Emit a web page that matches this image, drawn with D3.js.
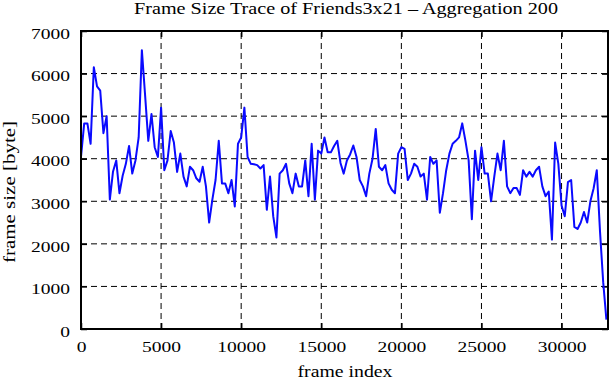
<!DOCTYPE html>
<html>
<head>
<meta charset="utf-8">
<script src="https://cdn.jsdelivr.net/npm/d3@7"></script>
<style>
  body { margin: 0; background: #fff; }
</style>
</head>
<body>
<div id="chart"></div>
<script>
// frame size trace, one value per 200 frames (aggregation 200)
const aggregation = 200;
const frameSizes = [
  4040, 4830, 4830, 4350, 6150, 5700, 5600, 4600, 5000, 3040,
  3700, 3960, 3190, 3600, 3880, 4300, 3650, 3960, 4500, 6550,
  5500, 4420, 5050, 4270, 4040, 5200, 3730, 3960, 4650, 4380,
  3690, 4120, 3580, 3350, 3810, 3730, 3540, 3460, 3810, 3350,
  2500, 3040, 3500, 4420, 3420, 3420, 3190, 3500, 2880, 4350,
  4500, 5200, 4040, 3880, 3870, 3850, 3770, 3850, 2800, 3580,
  2650, 2150, 3650, 3730, 3880, 3420, 3190, 3650, 3350, 3350,
  3960, 3120, 4350, 3040, 4190, 4120, 4500, 4150, 4150, 4300,
  4420, 3900, 3650, 3960, 4100, 4310, 4040, 3500, 3350, 3120,
  3650, 4000, 4700, 3810, 3730, 3850, 3420, 3270, 3190, 4120,
  4270, 4230, 3500, 3650, 3880, 3810, 3580, 3650, 3040, 4040,
  3880, 3960, 2730, 3190, 3730, 4120, 4350, 4420, 4500, 4830,
  4420, 3960, 2580, 4190, 3500, 4270, 3650, 3650, 3000, 3580,
  4120, 3730, 4420, 3350, 3190, 3310, 3310, 3150, 3730, 3580,
  3690, 3580, 3730, 3810, 3350, 3120, 3230, 2100, 4380, 3880,
  2900, 2650, 3450, 3500, 2400, 2350, 2500, 2750, 2500, 3000,
  3300, 3730, 2300, 1100, 220
];
const xTicks = [0, 5000, 10000, 15000, 20000, 25000, 30000];
const yTicks = [0, 1000, 2000, 3000, 4000, 5000, 6000, 7000];
const xMax = 32900;
const yMax = 7000;

const w = 611, h = 380;
const margin = { left: 81, right: 3, top: 31, bottom: 51 };
const serif = "'Liberation Serif', 'Times New Roman', serif";
const digitW = 9.75; // the reference font is wide, stretch text to match

const svg = d3.select("#chart").append("svg")
  .attr("width", w).attr("height", h)
  .style("font-family", serif);

const xScale = d3.scaleLinear().domain([0, xMax]).range([margin.left, w - margin.right]);
const yScale = d3.scaleLinear().domain([0, yMax]).range([h - margin.bottom, margin.top]);

const x0 = margin.left, x1 = w - margin.right;
const y0 = h - margin.bottom, y1 = margin.top;

// dashed grid
svg.append("g").selectAll("line")
  .data(xTicks.filter(d => d > 0))
  .enter().append("line")
  .attr("x1", d => xScale(d)).attr("x2", d => xScale(d))
  .attr("y1", y0).attr("y2", y1)
  .attr("stroke", "#000").attr("stroke-width", 1)
  .attr("stroke-dasharray", "6,4");

svg.append("g").selectAll("line")
  .data(yTicks.filter(d => d > 0 && d < yMax))
  .enter().append("line")
  .attr("x1", x0).attr("x2", x1)
  .attr("y1", d => yScale(d)).attr("y2", d => yScale(d))
  .attr("stroke", "#000").attr("stroke-width", 1)
  .attr("stroke-dasharray", "6,4");

// axes with inward ticks
const tickLen = 6;
function styleLabels(g) {
  g.select(".domain").remove();
  g.attr("font-family", null).style("font-family", serif);
  g.selectAll("text")
    .attr("fill", "#000")
    .style("font-family", serif)
    .style("font-size", "15px")
    .attr("textLength", function() { return this.textContent.length * digitW; })
    .attr("lengthAdjust", "spacingAndGlyphs");
}
svg.append("g").attr("transform", "translate(0," + y0 + ")")
  .call(d3.axisBottom(xScale).tickValues(xTicks).tickSize(-tickLen).tickPadding(12).tickFormat(d3.format("d")))
  .call(styleLabels);
svg.append("g").attr("transform", "translate(0," + y1 + ")")
  .call(d3.axisTop(xScale).tickValues(xTicks).tickSize(-tickLen).tickFormat(""))
  .call(g => g.select(".domain").remove());
svg.append("g").attr("transform", "translate(" + x0 + ",0)")
  .call(d3.axisLeft(yScale).tickValues(yTicks).tickSize(-tickLen).tickPadding(11).tickFormat(d3.format("d")))
  .call(styleLabels)
  .call(g => g.selectAll("text").attr("dy", "0.48em"));
svg.append("g").attr("transform", "translate(" + x1 + ",0)")
  .call(d3.axisRight(yScale).tickValues(yTicks).tickSize(-tickLen).tickFormat(""))
  .call(g => g.select(".domain").remove());
svg.selectAll(".tick line").attr("stroke", "#000").attr("stroke-width", 1.5);

// the trace
const line = d3.line()
  .x((d, i) => xScale(i * aggregation))
  .y(d => yScale(d));
svg.append("path")
  .datum(frameSizes)
  .attr("fill", "none")
  .attr("stroke", "#0a0aff")
  .attr("stroke-width", 2)
  .attr("stroke-linejoin", "round")
  .attr("d", line);

// frame
svg.append("rect")
  .attr("x", x0).attr("y", y1)
  .attr("width", x1 - x0).attr("height", y0 - y1)
  .attr("fill", "none").attr("stroke", "#000").attr("stroke-width", 2);

// labels
svg.append("text")
  .attr("x", 346).attr("y", 14)
  .attr("text-anchor", "middle").style("font-size", "16px")
  .attr("textLength", 424).attr("lengthAdjust", "spacingAndGlyphs")
  .text("Frame Size Trace of Friends3x21 \u2013 Aggregation 200");
svg.append("text")
  .attr("x", 345).attr("y", 377)
  .attr("text-anchor", "middle").style("font-size", "16px")
  .attr("textLength", 95).attr("lengthAdjust", "spacingAndGlyphs")
  .text("frame index");
svg.append("text")
  .attr("transform", "translate(15,192) rotate(-90)")
  .attr("text-anchor", "middle").style("font-size", "16px")
  .attr("textLength", 142).attr("lengthAdjust", "spacingAndGlyphs")
  .text("frame size [byte]");
</script>
</body>
</html>
